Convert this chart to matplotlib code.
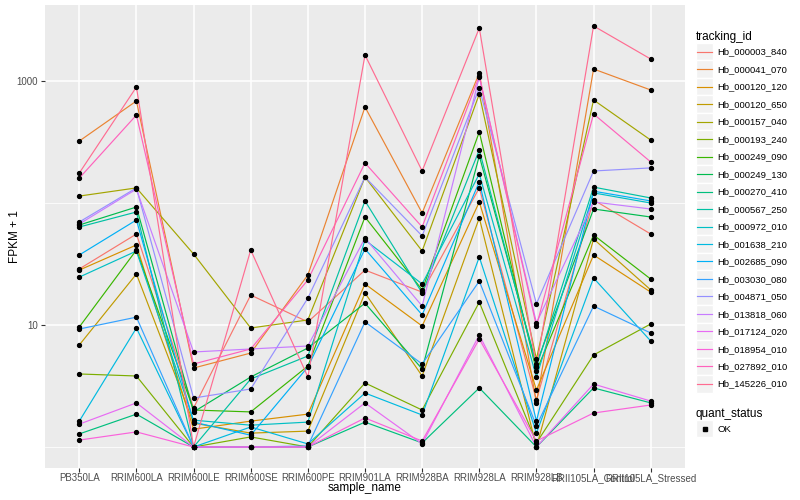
import matplotlib
matplotlib.use("Agg")
import matplotlib.pyplot as plt
from matplotlib.lines import Line2D
from matplotlib.patches import Rectangle
from matplotlib.legend_handler import HandlerBase
import numpy as np

plt.rcParams['font.family'] = ['Liberation Sans', 'DejaVu Sans']

samples = ["PB350LA", "RRIM600LA", "RRIM600LE", "RRIM600SE", "RRIM600PE",
           "RRIM901LA", "RRIM928BA", "RRIM928LA", "RRIM928LB",
           "RRII105LA_Control", "RRII105LA_Stressed"]

tracking_ids = ["Hb_000003_840", "Hb_000041_070", "Hb_000120_120", "Hb_000120_650",
                "Hb_000157_040", "Hb_000193_240", "Hb_000249_090", "Hb_000249_130",
                "Hb_000270_410", "Hb_000567_250", "Hb_000972_010", "Hb_001638_210",
                "Hb_002685_090", "Hb_003030_080", "Hb_004871_050", "Hb_013818_060",
                "Hb_017124_020", "Hb_018954_010", "Hb_027892_010", "Hb_145226_010"]

# FPKM per sample (plotted as FPKM + 1)
hb_000003_840 = [27.8, 54.7, 1.09, 16.6, 9.6, 27.2, 17.6, 132, 1.43, 105, 54.7]
hb_000041_070 = [321, 685, 3.44, 4.89, 24.7, 611, 81.8, 1163, 1.30, 1253, 843]
hb_000120_120 = [27.2, 44.3, 0.40, 0.63, 0.86, 20.7, 8.81, 101, 1.93, 36.5, 17.6]
hb_000120_650 = [5.86, 25.2, 0.57, 0.30, 0.35, 17.3, 2.82, 74.4, 0, 49.7, 18.4]
hb_000157_040 = [113, 132, 37.2, 8.45, 10.0, 162, 39.4, 781, 4.26, 698, 327]
hb_000193_240 = [2.97, 2.82, 0, 0.21, 0, 2.35, 1.01, 14.4, 0.08, 4.68, 9.2]
hb_000249_090 = [8.63, 40.2, 1.01, 0.94, 3.61, 75.8, 18.4, 381, 3.20, 53.7, 22.8]
hb_000249_130 = [65.0, 91.7, 0.94, 2.75, 5.48, 14.1, 3.36, 242, 3.79, 88.3, 75.8]
hb_000270_410 = [0.28, 0.86, 0, 0, 0, 0.60, 0.08, 2.05, 0, 2.05, 1.30]
hb_000567_250 = [62.6, 83.4, 0, 2.61, 4.57, 103, 17.3, 271, 3.53, 134, 109]
hb_000972_010 = [23.7, 39.4, 0.66, 0.51, 0.60, 48.7, 20.7, 172, 2.75, 120, 99]
hb_001638_210 = [0.63, 8.45, 0, 0.46, 0.06, 1.77, 0.83, 35.1, 0.30, 23.3, 6.39]
hb_002685_090 = [36.5, 71.6, 0.60, 0.25, 3.53, 41.0, 11.1, 148, 0.63, 124, 103]
hb_003030_080 = [8.27, 10.6, 0, 0, 0.02, 9.6, 3.79, 21.9, 0.49, 13.3, 7.6]
hb_004871_050 = [68.9, 132, 1.52, 1.99, 15.6, 162, 52.7, 876, 13.9, 182, 193]
hb_013818_060 = [66.3, 129, 5.01, 5.36, 5.73, 50.6, 13.3, 1077, 9.4, 101, 88.3]
hb_017124_020 = [0.54, 1.30, 0, 0, 0, 1.30, 0.06, 7.28, 0, 2.28, 1.38]
hb_018954_010 = [0.14, 0.33, 0, 0, 0, 0.73, 0.12, 6.68, 0.12, 0.90, 1.21]
hb_027892_010 = [159, 525, 3.79, 5.36, 22.4, 212, 62.6, 1098, 8.81, 536, 216]
hb_145226_010 = [175, 892, 0, 40.2, 2.75, 1633, 182, 2717, 3.53, 2824, 1513]

series = [hb_000003_840, hb_000041_070, hb_000120_120, hb_000120_650,
          hb_000157_040, hb_000193_240, hb_000249_090, hb_000249_130,
          hb_000270_410, hb_000567_250, hb_000972_010, hb_001638_210,
          hb_002685_090, hb_003030_080, hb_004871_050, hb_013818_060,
          hb_017124_020, hb_018954_010, hb_027892_010, hb_145226_010]

# ggplot default hue palette, 20 levels
colors = ["#F8766D", "#EA8331", "#D89000", "#C09B00", "#A3A500", "#7CAE00",
          "#39B600", "#00BB4E", "#00BF7D", "#00C1A3", "#00BFC4", "#00BAE0",
          "#00B0F6", "#35A2FF", "#9590FF", "#C77CFF", "#E76BF3", "#FA62DB",
          "#FF62BC", "#FF6C91"]

x = np.arange(len(samples))

fig = plt.figure(figsize=(8, 5), dpi=100)
ax = fig.add_axes([45/800, 1 - 468/500, 640/800, 463/500])
ax.set_facecolor("#EBEBEB")

for vals, col in zip(series, colors):
    ax.plot(x, np.array(vals) + 1, color=col, lw=0.85, zorder=2)
for vals in series:
    ax.plot(x, np.array(vals) + 1, ls='none', marker='o', ms=2.8,
            color='black', zorder=3)

ax.set_yscale('log')
ax.set_ylim(10 ** -0.172, 10 ** 3.623)
ax.set_xlim(-0.6, len(samples) - 0.4)
ax.set_yticks([10, 1000], labels=["10", "1000"])
ax.set_yticks([1, 100], minor=True)
ax.yaxis.set_minor_formatter(matplotlib.ticker.NullFormatter())
ax.set_xticks(x, samples)

ax.grid(which='major', color='white', lw=1.1, zorder=0)
ax.grid(which='minor', axis='y', color='white', lw=0.55, zorder=0)
ax.set_axisbelow(True)
for s in ax.spines.values():
    s.set_visible(False)
ax.tick_params(which='major', length=3, color='#333333', labelsize=7,
               labelcolor='#4D4D4D', pad=2)
ax.tick_params(axis='x', which='major', pad=0.8)
ax.tick_params(which='minor', length=0)

ax.set_xlabel("sample_name", fontsize=8.5)
ax.set_ylabel("FPKM + 1", fontsize=8.5)
ax.xaxis.set_label_coords(0.5, -(482 - 468) / 463)
ax.yaxis.set_label_coords(-(45 - 21) / 640, 0.5)


class KeyHandler(HandlerBase):
    def __init__(self, kind):
        super().__init__()
        self.kind = kind

    def create_artists(self, legend, orig_handle, xdescent, ydescent,
                       width, height, fontsize, trans):
        box = Rectangle((-xdescent, -ydescent), width, height,
                        facecolor='#F2F2F2', edgecolor='white', lw=1,
                        transform=trans)
        cy = -ydescent + height / 2
        if self.kind == 'line':
            mark = Line2D([-xdescent + 1, -xdescent + width - 1], [cy, cy],
                          color=orig_handle.get_color(), lw=0.85,
                          transform=trans)
        else:
            mark = Line2D([-xdescent + width / 2], [cy], ls='none', marker='s',
                          ms=2.6, color='black', transform=trans)
        return [box, mark]


leg_kw = dict(loc='upper left', frameon=False, fontsize=6.8,
              title_fontsize=8.5, handlelength=1.8, handleheight=2.47,
              labelspacing=0, handletextpad=0.5, borderpad=0,
              borderaxespad=0, alignment='left')

line_handles = [Line2D([], [], color=c) for c in colors]
fig.legend(line_handles, tracking_ids, title="tracking_id",
           bbox_to_anchor=(696/800, 1 - 31/500),
           handler_map={Line2D: KeyHandler('line')}, **leg_kw)

ok_handle = Rectangle((0, 0), 1, 1)
fig.legend([ok_handle], ["OK"], title="quant_status",
           bbox_to_anchor=(696/800, 1 - 408/500),
           handler_map={Rectangle: KeyHandler('point')}, **leg_kw)

fig.savefig("out.png", dpi=100)
